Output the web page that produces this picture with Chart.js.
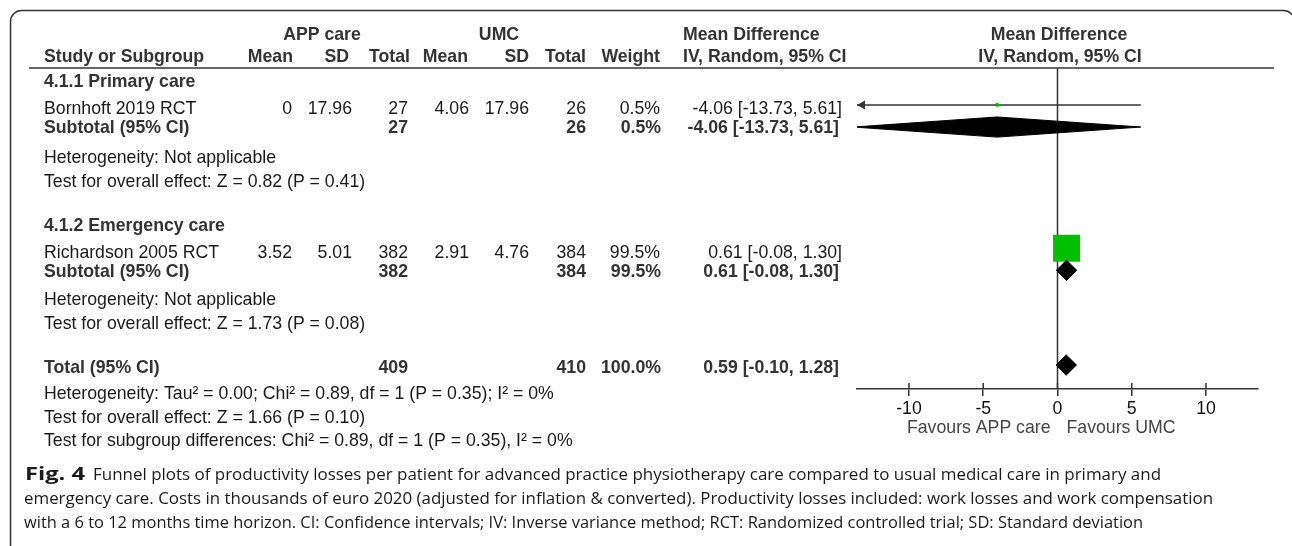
<!DOCTYPE html>
<html>
<head>
<meta charset="utf-8">
<script src="https://cdn.jsdelivr.net/npm/chart.js@4.4.1/dist/chart.umd.min.js"></script>
<style>
  html, body { margin: 0; padding: 0; background: #fff; }
  canvas { display: block; }
</style>
</head>
<body>
<canvas id="forest" width="1292" height="546"></canvas>
<script>
// study level data
const studies = ['Bornhoft 2019 RCT', 'Richardson 2005 RCT'];
const appMean = [0, 3.52];
const appSD = [17.96, 5.01];
const appTotal = [27, 382];
const umcMean = [4.06, 2.91];
const umcSD = [17.96, 4.76];
const umcTotal = [26, 384];
const studyWeight = [0.5, 99.5];
const studyMD = [-4.06, 0.61];
const studyLow = [-13.73, -0.08];
const studyHigh = [5.61, 1.30];

// subgroups
const groups = ['4.1.1 Primary care', '4.1.2 Emergency care'];
const groupApp = [27, 382];
const groupUmc = [26, 384];
const groupWeight = [0.5, 99.5];
const groupMD = [-4.06, 0.61];
const groupLow = [-13.73, -0.08];
const groupHigh = [5.61, 1.30];
const groupNotes = [
  ['Heterogeneity: Not applicable', 'Test for overall effect: Z = 0.82 (P = 0.41)'],
  ['Heterogeneity: Not applicable', 'Test for overall effect: Z = 1.73 (P = 0.08)']
];

// overall
const totalApp = 409;
const totalUmc = 410;
const totalWeight = 100.0;
const totalMD = 0.59;
const totalLow = -0.10;
const totalHigh = 1.28;
const totalNotes = [
  'Heterogeneity: Tau² = 0.00; Chi² = 0.89, df = 1 (P = 0.35); I² = 0%',
  'Test for overall effect: Z = 1.66 (P = 0.10)',
  'Test for subgroup differences: Chi² = 0.89, df = 1 (P = 0.35), I² = 0%'
];

const xTicks = [-10, -5, 0, 5, 10];
const xRange = [-13.5, 13.5];
const favours = ['Favours APP care', 'Favours UMC'];

const caption = [
  ['Fig. 4', 'Funnel plots of productivity losses per patient for advanced practice physiotherapy care compared to usual medical care in primary and'],
  ['', 'emergency care. Costs in thousands of euro 2020 (adjusted for inflation & converted). Productivity losses included: work losses and work compensation'],
  ['', 'with a 6 to 12 months time horizon. CI: Confidence intervals; IV: Inverse variance method; RCT: Randomized controlled trial; SD: Standard deviation']
];

// layout: row slots in line units (0 = header rule, axis at the bottom)
const ROW = {
  head1: -1.42, head2: -0.5,
  groupHead: [0.54, 6.54],
  study: [1.54, 7.51],
  subtotal: [2.46, 8.43],
  notes: [[3.71, 4.71], [9.6, 10.6]],
  total: 12.375,
  totalNotes: [13.54, 14.52, 15.5],
  axis: 13.375
};
const DIAMOND_H = 0.42;
const FONT = '"Liberation Sans", Arial, sans-serif';
const FS = 17.7;
const COLS = { appMean: 292, appSD: 352, appN: 408, umcMean: 469, umcSD: 529, umcN: 586, weight: 660, ci: 842 };

const fmt = v => v === 0 ? '0' : v.toFixed(2);
const ciText = (m, lo, hi) => `${m.toFixed(2)} [${lo.toFixed(2)}, ${hi.toFixed(2)}]`;
const squareSide = w => Math.max(3.5, 27 * Math.sqrt(w / 99.5));

const diamond = (m, lo, hi, r) => [
  { x: lo, y: r }, { x: m, y: r - DIAMOND_H }, { x: hi, y: r }, { x: m, y: r + DIAMOND_H }, { x: lo, y: r }
];

const datasets = [];
datasets.push({
  data: [{ x: 0, y: 0 }, { x: 0, y: ROW.axis }],
  showLine: true, borderColor: '#333', borderWidth: 1.5, pointRadius: 0, order: 10
});
studies.forEach((s, i) => {
  datasets.push({
    data: [{ x: studyLow[i], y: ROW.study[i] }, { x: studyHigh[i], y: ROW.study[i] }],
    showLine: true, borderColor: '#333', borderWidth: 1.5, pointRadius: 0, order: 5
  });
});
datasets.push({
  data: studies.map((s, i) => ({ x: studyMD[i], y: ROW.study[i] })),
  pointStyle: 'rect',
  pointRadius: studyWeight.map(w => squareSide(w) / Math.SQRT2),
  pointBackgroundColor: '#00bf00', pointBorderWidth: 0, order: 2
});
groups.forEach((g, i) => {
  datasets.push({
    data: diamond(groupMD[i], groupLow[i], groupHigh[i], ROW.subtotal[i]),
    showLine: true, fill: 'shape', backgroundColor: '#000', borderColor: '#000',
    borderWidth: 1, pointRadius: 0, order: 1
  });
});
datasets.push({
  data: diamond(totalMD, totalLow, totalHigh, ROW.total),
  showLine: true, fill: 'shape', backgroundColor: '#000', borderColor: '#000',
  borderWidth: 1, pointRadius: 0, order: 1
});

function text(ctx, s, x, y, align, bold, color) {
  ctx.font = `${bold ? 'bold ' : ''}${FS}px ${FONT}`;
  ctx.fillStyle = color || (bold ? '#333' : '#1a1a1a');
  ctx.textAlign = align || 'left';
  ctx.textBaseline = 'alphabetic';
  ctx.fillText(s, x, y + FS * 0.36);
}

// stretch or squeeze a caption run to a given width
function fitText(ctx, s, x, base, width, font) {
  ctx.font = font;
  ctx.textAlign = 'left';
  ctx.textBaseline = 'alphabetic';
  const w = ctx.measureText(s).width;
  ctx.save();
  ctx.translate(x, base);
  ctx.scale(width / w, 1);
  ctx.fillText(s, 0, 0);
  ctx.restore();
}

const tablePlugin = {
  id: 'table',
  beforeDraw(chart) {
    const ctx = chart.ctx;
    ctx.save();
    ctx.fillStyle = '#fff';
    ctx.fillRect(0, 0, chart.width, chart.height);
    ctx.restore();
  },
  afterDatasetsDraw(chart) {
    // arrows where a CI runs off the axis
    const ctx = chart.ctx, xs = chart.scales.x, ys = chart.scales.y;
    ctx.save();
    ctx.fillStyle = '#333';
    studies.forEach((s, i) => {
      const y = ys.getPixelForValue(ROW.study[i]);
      if (studyLow[i] < xs.min) {
        const x = xs.getPixelForValue(xs.min);
        ctx.beginPath(); ctx.moveTo(x, y); ctx.lineTo(x + 8, y - 4.5); ctx.lineTo(x + 8, y + 4.5); ctx.closePath(); ctx.fill();
      }
      if (studyHigh[i] > xs.max) {
        const x = xs.getPixelForValue(xs.max);
        ctx.beginPath(); ctx.moveTo(x, y); ctx.lineTo(x - 8, y - 4.5); ctx.lineTo(x - 8, y + 4.5); ctx.closePath(); ctx.fill();
      }
    });
    ctx.restore();
  },
  afterDraw(chart) {
    const ctx = chart.ctx, xs = chart.scales.x, ys = chart.scales.y;
    const py = v => ys.getPixelForValue(v);
    ctx.save();

    // frame, right side runs past the page edge
    ctx.strokeStyle = '#333';
    ctx.lineWidth = 1.5;
    const bx = 10.5, by = 10.5, bw = 1284, bh = 600, r = 11;
    ctx.beginPath();
    ctx.moveTo(bx, by + bh);
    ctx.lineTo(bx, by + r);
    ctx.arcTo(bx, by, bx + r, by, r);
    ctx.lineTo(bx + bw - r, by);
    ctx.arcTo(bx + bw, by, bx + bw, by + r, r);
    ctx.lineTo(bx + bw, by + bh);
    ctx.stroke();

    // header
    const h1 = py(ROW.head1), h2 = py(ROW.head2);
    text(ctx, 'APP care', 322, h1, 'center', true);
    text(ctx, 'UMC', 499, h1, 'center', true);
    text(ctx, 'Mean Difference', 683, h1, 'left', true);
    text(ctx, 'Mean Difference', 1059, h1, 'center', true);
    text(ctx, 'Study or Subgroup', 44, h2, 'left', true);
    text(ctx, 'Mean', 293, h2, 'right', true);
    text(ctx, 'SD', 349, h2, 'right', true);
    text(ctx, 'Total', 410, h2, 'right', true);
    text(ctx, 'Mean', 468, h2, 'right', true);
    text(ctx, 'SD', 529, h2, 'right', true);
    text(ctx, 'Total', 586, h2, 'right', true);
    text(ctx, 'Weight', 660, h2, 'right', true);
    text(ctx, 'IV, Random, 95% CI', 683, h2, 'left', true);
    text(ctx, 'IV, Random, 95% CI', 1060, h2, 'center', true);

    ctx.strokeStyle = '#333';
    ctx.lineWidth = 1.5;
    ctx.beginPath();
    ctx.moveTo(29, py(0));
    ctx.lineTo(1274, py(0));
    ctx.stroke();

    // subgroups with their studies
    groups.forEach((g, i) => {
      text(ctx, g, 44, py(ROW.groupHead[i]), 'left', true);
      const ry = py(ROW.study[i]) + 3;
      text(ctx, studies[i], 44, ry);
      text(ctx, fmt(appMean[i]), COLS.appMean, ry, 'right');
      text(ctx, fmt(appSD[i]), COLS.appSD, ry, 'right');
      text(ctx, String(appTotal[i]), COLS.appN, ry, 'right');
      text(ctx, fmt(umcMean[i]), COLS.umcMean, ry, 'right');
      text(ctx, fmt(umcSD[i]), COLS.umcSD, ry, 'right');
      text(ctx, String(umcTotal[i]), COLS.umcN, ry, 'right');
      text(ctx, studyWeight[i].toFixed(1) + '%', COLS.weight, ry, 'right');
      text(ctx, ciText(studyMD[i], studyLow[i], studyHigh[i]), COLS.ci, ry, 'right');

      const sy = py(ROW.subtotal[i]);
      text(ctx, 'Subtotal (95% CI)', 44, sy, 'left', true);
      text(ctx, String(groupApp[i]), COLS.appN, sy, 'right', true);
      text(ctx, String(groupUmc[i]), COLS.umcN, sy, 'right', true);
      text(ctx, groupWeight[i].toFixed(1) + '%', COLS.weight + 1, sy, 'right', true);
      text(ctx, ciText(groupMD[i], groupLow[i], groupHigh[i]), COLS.ci - 3, sy, 'right', true);

      groupNotes[i].forEach((n, k) => text(ctx, n, 44, py(ROW.notes[i][k])));
    });

    // total
    const ty = py(ROW.total) + 1.5;
    text(ctx, 'Total (95% CI)', 44, ty, 'left', true);
    text(ctx, String(totalApp), COLS.appN, ty, 'right', true);
    text(ctx, String(totalUmc), COLS.umcN, ty, 'right', true);
    text(ctx, totalWeight.toFixed(1) + '%', COLS.weight + 1, ty, 'right', true);
    text(ctx, ciText(totalMD, totalLow, totalHigh), COLS.ci - 3, ty, 'right', true);
    totalNotes.forEach((n, k) => text(ctx, n, 44, py(ROW.totalNotes[k])));

    // upper half of the axis ticks
    const ay = py(ROW.axis);
    ctx.beginPath();
    xs.ticks.forEach(t => {
      const x = xs.getPixelForValue(t.value);
      ctx.moveTo(x, ay);
      ctx.lineTo(x, ay - 6);
    });
    ctx.stroke();

    // favours labels
    const zx = xs.getPixelForValue(0);
    text(ctx, favours[0], zx - 7, ay + 37.5, 'right', false, '#444');
    text(ctx, favours[1], zx + 9, ay + 37.5, 'left', false, '#444');

    // caption
    ctx.fillStyle = '#1a1a1a';
    const capFont = '15.5px "Open Sans", Lato, sans-serif';
    const capBold = 'bold 17.5px "Open Sans", Lato, sans-serif';
    const lines = [[480, 1161], [503.5, 1213], [528, 1143]];
    caption.forEach((c, k) => {
      const [base, end] = lines[k];
      if (c[0]) {
        fitText(ctx, c[0], 25, base, 60, capBold);
        fitText(ctx, c[1], 93, base, end - 93, capFont);
      } else {
        fitText(ctx, c[1], 24, base, end - 24, capFont);
      }
    });

    ctx.restore();
  }
};

new Chart(document.getElementById('forest'), {
  type: 'scatter',
  data: { datasets },
  options: {
    responsive: false,
    animation: false,
    events: [],
    layout: { padding: { left: 857, right: 34, top: 68, bottom: 127 } },
    plugins: { legend: { display: false }, tooltip: { enabled: false } },
    elements: { line: { tension: 0 } },
    scales: {
      x: {
        type: 'linear',
        min: xRange[0],
        max: xRange[1],
        afterBuildTicks: s => { s.ticks = xTicks.map(v => ({ value: v })); },
        afterFit: s => { s.height = 30; },
        border: { color: '#333', width: 1.5 },
        grid: { drawOnChartArea: false, drawTicks: true, tickLength: 7, color: '#333', lineWidth: 1.5 },
        ticks: { color: '#111', padding: 2, font: { family: FONT, size: FS }, maxRotation: 0 }
      },
      y: {
        type: 'linear',
        display: false,
        reverse: true,
        min: 0,
        max: ROW.axis
      }
    }
  },
  plugins: [tablePlugin]
});
</script>
</body>
</html>
